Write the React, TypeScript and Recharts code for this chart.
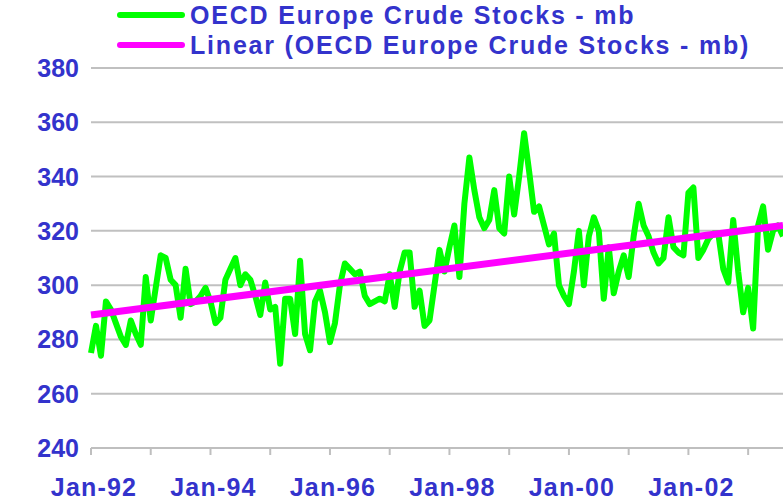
import { LineChart, Line, XAxis, YAxis, CartesianGrid } from 'recharts';

const monthNames = ['Jan', 'Feb', 'Mar', 'Apr', 'May', 'Jun', 'Jul', 'Aug', 'Sep', 'Oct', 'Nov', 'Dec'];
const years = ['92', '93', '94', '95', '96', '97', '98', '99', '00', '01', '02', '03'];

// monthly OECD Europe crude stocks, mb, Jan-92 .. Aug-03
const stocks = [
  275, 285, 274, 294, 291, 286, 281, 278, 287, 282, 278, 303,
  287, 299, 311, 310, 302, 300, 288, 306, 293, 294, 296, 299,
  294, 286, 288, 302, 306, 310, 300, 304, 302, 296, 289, 301,
  291, 292, 271, 295, 295, 282, 309, 282, 276, 294, 298, 290,
  279, 286, 300, 308, 306, 304, 305, 296, 293, 294, 295, 294,
  304, 292, 305, 312, 312, 292, 298, 285, 287, 300, 313, 305,
  314, 322, 303, 330, 347, 335, 325, 321, 324, 335, 321, 319,
  340, 326, 340, 356, 342, 327, 329, 322, 315, 319, 300, 296,
  293, 305, 320, 300, 318, 325, 320, 295, 314, 297, 305, 311,
  303, 318, 330, 322, 318, 312, 308, 310, 325, 314, 312, 311,
  334, 336, 310, 313, 317, 319, 319, 306, 301, 324, 305, 290,
  299, 284, 322, 329, 313, 320, 322, 318,
];

// linear trend read at first and last month
const trendStart = 289;
const trendEnd = 322;

const yTicks = [240, 260, 280, 300, 320, 340, 360, 380];

const categories = stocks.map((_, i) => `${monthNames[i % 12]}-${years[Math.floor(i / 12)]}`);

const data = categories.map((month, i) => ({
  month,
  stocks: stocks[i],
  trend: i === 0 ? trendStart : i === stocks.length - 1 ? trendEnd : null,
}));

const BLUE = '#3333CC';
const FONT = '"Liberation Sans", Arial, sans-serif';

function XTick(props: any) {
  const { x, y, payload, index } = props;
  const i = payload?.index ?? index;
  if (i % 12 !== 0) return null;
  return (
    <g>
      <line x1={x} x2={x} y1={y - 8} y2={y - 1} stroke="#BFBFBF" strokeWidth={2} />
      {i % 24 === 0 && (
        <text x={x + 3} y={y + 40} textAnchor="middle" fill={BLUE} fontSize={25} fontWeight="bold" fontFamily={FONT} letterSpacing={1.2}>
          {payload.value}
        </text>
      )}
    </g>
  );
}

function YTick(props: any) {
  const { y, payload } = props;
  return (
    <text x={79} y={y + 9} textAnchor="end" fill={BLUE} fontSize={25} fontWeight="bold" fontFamily={FONT}>
      {payload.value}
    </text>
  );
}

export default function App() {
  return (
    <div style={{ position: 'absolute', left: 0, top: 0, width: 783, height: 500, background: '#fff' }}>
      <LineChart width={783} height={500} data={data} margin={{ top: 68, right: 0, left: 0, bottom: 0 }}>
        <CartesianGrid vertical={false} stroke="#C0C0C0" strokeWidth={2} />
        <XAxis
          dataKey="month"
          interval={0}
          height={52}
          tickLine={false}
          axisLine={{ stroke: '#BFBFBF', strokeWidth: 2 }}
          tick={<XTick />}
        />
        <YAxis
          domain={[240, 380]}
          ticks={yTicks}
          width={91}
          axisLine={false}
          tickLine={false}
          tick={<YTick />}
        />
        <Line
          type="linear"
          dataKey="stocks"
          stroke="#00FF00"
          strokeWidth={6}
          dot={false}
          strokeLinejoin="round"
          isAnimationActive={false}
        />
        <Line
          type="linear"
          dataKey="trend"
          stroke="#FF00FF"
          strokeWidth={7}
          dot={false}
          connectNulls
          isAnimationActive={false}
        />
      </LineChart>
      <svg width={783} height={62} style={{ position: 'absolute', left: 0, top: 0 }}>
        <line x1={120} x2={182} y1={15} y2={15} stroke="#00FF00" strokeWidth={6} strokeLinecap="round" />
        <text x={190} y={24} fill={BLUE} fontSize={25} fontWeight="bold" fontFamily={FONT} letterSpacing={1.8}>
          OECD Europe Crude Stocks - mb
        </text>
        <line x1={120} x2={182} y1={45} y2={45} stroke="#FF00FF" strokeWidth={6} strokeLinecap="round" />
        <text x={190} y={54} fill={BLUE} fontSize={25} fontWeight="bold" fontFamily={FONT} letterSpacing={1.8}>
          Linear (OECD Europe Crude Stocks - mb)
        </text>
      </svg>
    </div>
  );
}
